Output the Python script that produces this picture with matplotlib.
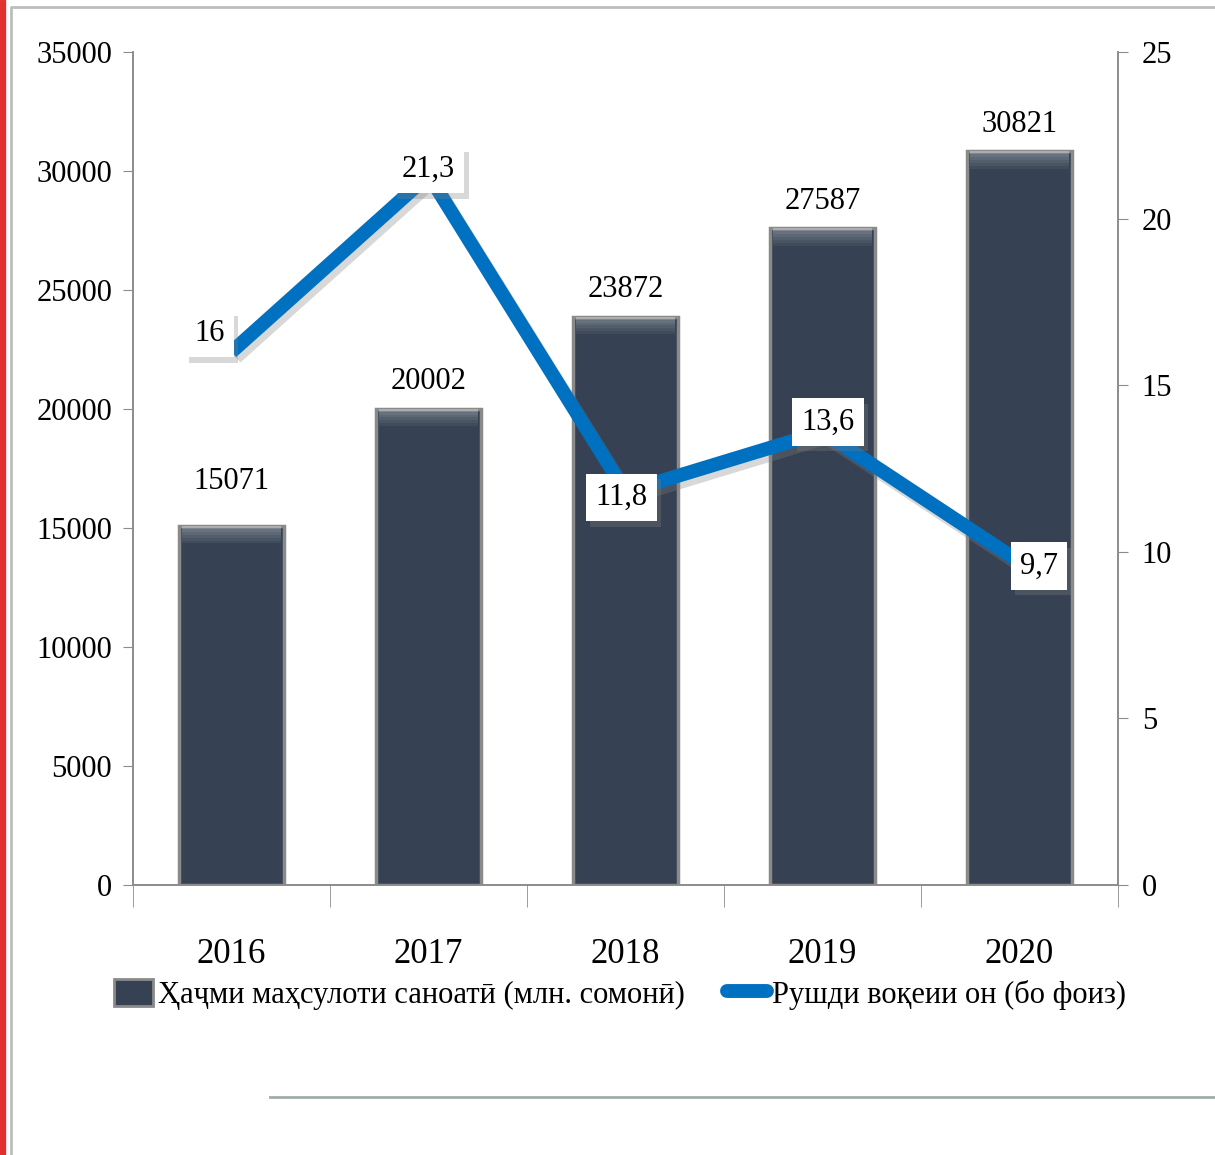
import matplotlib
matplotlib.use("Agg")
import matplotlib.pyplot as plt
import matplotlib.patheffects as pe
from matplotlib.patches import Rectangle
from matplotlib.lines import Line2D

# Données du graphique
years = ["2016", "2017", "2018", "2019", "2020"]
volume = [15071, 20002, 23872, 27587, 30821]   # млн. сомонӣ
growth = [16, 21.3, 11.8, 13.6, 9.7]           # бо фоиз
growth_labels = ["16", "21,3", "11,8", "13,6", "9,7"]

label_volume = "Ҳаҷми маҳсулоти саноатӣ (млн. сомонӣ)"
label_growth = "Рушди воқеии он (бо фоиз)"

plt.rcParams["font.family"] = ["Liberation Serif", "DejaVu Serif"]

BAR_COLOR = "#364253"
LINE_COLOR = "#0070c0"
AXIS_COLOR = "#8c8c8c"

fig = plt.figure(figsize=(12.15, 11.55), dpi=100)
ax = fig.add_axes([0.1095, 0.2338, 0.8107, 0.7212])
ax2 = ax.twinx()

x = range(len(years))
ax.bar(x, volume, width=0.53, color=BAR_COLOR, edgecolor="#8a8a8a", linewidth=2.5, zorder=2)

# léger reflet en haut des barres (effet biseau)
step = 120
for k in range(6):
    ax.bar(x, step, bottom=[v - step * (k + 1) for v in volume], width=0.5,
           color="white", alpha=0.05 * (6 - k), linewidth=0, zorder=2.5)

ax.set_xlim(-0.5, len(years) - 0.5)
ax.set_ylim(0, 35000)
ax.set_yticks(range(0, 35001, 5000))
ax2.set_ylim(0, 25)
ax2.set_yticks(range(0, 26, 5))

shadow = [pe.SimpleLineShadow(offset=(3, -4), shadow_color="gray", alpha=0.3), pe.Normal()]
ax2.plot(x, growth, color=LINE_COLOR, linewidth=10, solid_capstyle="butt", zorder=3, path_effects=shadow)

# étiquettes des barres
bar_offsets = [22, 9, 9, 9, 9]
for i, v in enumerate(volume):
    ax.annotate(str(v), (i, v), xytext=(0, bar_offsets[i]), textcoords="offset points",
                ha="center", va="bottom", fontsize=22)

# étiquettes de la courbe
line_offsets = [(-16, 13), (0, 4), (-3, -4), (4, 7), (14, -3)]
box_shadow = [pe.withSimplePatchShadow(offset=(3, -4), shadow_rgbFace="gray", alpha=0.3)]
for i, v in enumerate(growth):
    t = ax2.annotate(growth_labels[i], (i, v), xytext=line_offsets[i], textcoords="offset points",
                     ha="center", va="center", fontsize=22, zorder=5,
                     bbox=dict(boxstyle="square,pad=0.3", fc="white", ec="none"))
    t.get_bbox_patch().set_path_effects(box_shadow)

# axes
for a in (ax, ax2):
    a.spines["top"].set_visible(False)
    for s in ("left", "right", "bottom"):
        a.spines[s].set_color(AXIS_COLOR)
        a.spines[s].set_linewidth(1.2)
ax.tick_params(axis="y", length=7, color=AXIS_COLOR, labelsize=22, pad=8)
ax2.tick_params(axis="y", length=7, color=AXIS_COLOR, labelsize=22, pad=10)
ax.set_xticks(list(x))
ax.set_xticklabels(years, fontsize=25)
ax.tick_params(axis="x", length=0, pad=38)
ax.set_xticks([i - 0.5 for i in range(len(years) + 1)], minor=True)
ax.tick_params(axis="x", which="minor", length=16, color=AXIS_COLOR)

# légende
handles = [Rectangle((0, 0), 1, 1, fc=BAR_COLOR, ec="#8a8a8a", lw=2),
           Line2D([0], [0], color=LINE_COLOR, lw=10, solid_capstyle="round")]
fig.legend(handles, [label_volume, label_growth], loc="center", bbox_to_anchor=(0.51, 0.139),
           ncol=2, frameon=False, fontsize=22, handlelength=1.3, handleheight=1.0,
           handletextpad=0.15, columnspacing=1.4)

# cadre
fig.add_artist(Rectangle((0, 0), 0.004, 1, transform=fig.transFigure, color="#e03030"))
fig.add_artist(Line2D([0.009, 0.009, 1], [0, 0.994, 0.994], transform=fig.transFigure, color="#bdbdbd", lw=2))
fig.add_artist(Line2D([0.222, 1], [0.05, 0.05], transform=fig.transFigure, color="#a3aca9", lw=2))

fig.savefig("out.png", dpi=100)
